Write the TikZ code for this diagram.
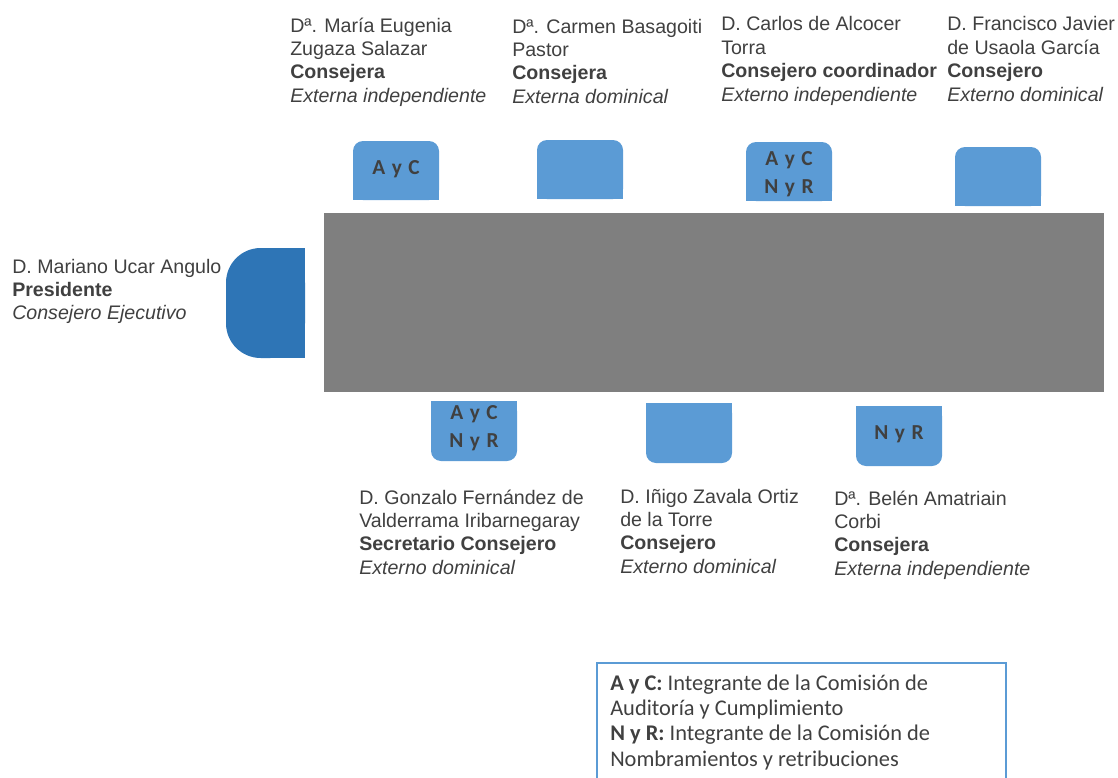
\documentclass[tikz,border=0pt]{standalone}
\usepackage{fontspec}
\setmainfont{Liberation Sans}
\newfontfamily\calfont{Carlito}
\definecolor{txtgray}{HTML}{404040}
\definecolor{chairblue}{HTML}{5B9BD5}
\definecolor{presblue}{HTML}{2E75B6}
\definecolor{tablegray}{HTML}{7F7F7F}
\newcommand\pcard[4]{\begin{tabular}[t]{@{}l@{}}#1\\#2\\\textbf{#3}\\\textit{#4}\end{tabular}}
\newcommand\tagcol[1]{\begin{tabular}[t]{@{}c@{}}#1\end{tabular}}
\tikzset{
  chair/.style={fill=chairblue},
  lbl/.style={anchor=base west, inner sep=0pt, text=txtgray, font=\fontsize{14.7}{17.6}\selectfont},
  tagtext/.style={anchor=base, text=txtgray, inner sep=0pt,
    font=\calfont\bfseries\fontsize{16}{21}\selectfont\addfontfeature{LetterSpace=8}},
  legendtext/.style={anchor=base west, inner sep=0pt, text=txtgray, font=\calfont\fontsize{16.8}{19}\selectfont}
}
\begin{document}
\begin{tikzpicture}[x=0.75pt,y=-0.75pt]
\useasboundingbox (0,0) rectangle (1118,778);
\begin{scope}
\clip (0,0) rectangle (1118,778);
% table
\fill[tablegray] (324,213) rectangle (1104,392);
% president chair
\fill[presblue, rounded corners=26pt] (226,248) rectangle (305,358);
\fill[presblue] (270,248) rectangle (305,358);
% top chairs (rounded top)
\foreach \xa/\ya in {353/141, 537/140, 746/142, 955/147}{
  \fill[chair, rounded corners=7.5pt] (\xa,\ya) rectangle ++(86,59);
  \fill[chair] (\xa,\ya+15) rectangle ++(86,44);
}
% bottom chairs (rounded bottom)
\foreach \xa/\ya in {431/401, 646/403, 856/406}{
  \fill[chair, rounded corners=7.5pt] (\xa,\ya) rectangle ++(86,60);
  \fill[chair] (\xa,\ya) rectangle ++(86,44);
}
% legend box
\draw[chairblue, line width=1.1pt] (597,663) rectangle (1006,800);
\end{scope}
% chair tags
\node[tagtext] (c1) at (396,174.5) {\tagcol{A y C}};
\node[tagtext] (c3) at (789,165.5) {\tagcol{A y C\\N y R}};
\node[tagtext] (b1) at (474,419.5) {\tagcol{A y C\\N y R}};
\node[tagtext] (b3) at (899,439.5) {\tagcol{N y R}};
% labels
\node[lbl] (p) at (12,273) {\begin{tabular}[t]{@{}l@{}}D. Mariano Ucar Angulo\\\textbf{Presidente}\\\textit{Consejero Ejecutivo}\end{tabular}};
\node[lbl] (t1) at (290,32) {\pcard{Dª. María Eugenia}{Zugaza Salazar}{Consejera}{Externa independiente}};
\node[lbl] (t2) at (512,33) {\pcard{Dª. Carmen Basagoiti}{Pastor}{Consejera}{Externa dominical}};
\node[lbl] (t3) at (721,31) {\pcard{D. Carlos de Alcocer}{Torra}{Consejero coordinador}{Externo independiente}};
\node[lbl] (t4) at (947,31) {\pcard{D. Francisco Javier}{de Usaola García}{Consejero}{Externo dominical}};
\node[lbl] (d1) at (359,504) {\pcard{D. Gonzalo Fernández de}{Valderrama Iribarnegaray}{Secretario Consejero}{Externo dominical}};
\node[lbl] (d2) at (620,503) {\pcard{D. Iñigo Zavala Ortiz}{de la Torre}{Consejero}{Externo dominical}};
\node[lbl] (d3) at (834,505) {\pcard{Dª. Belén Amatriain}{Corbi}{Consejera}{Externa independiente}};
% legend
\node[legendtext] (leg) at (610,690) {\begin{tabular}[t]{@{}l@{}}\textbf{A y C:} Integrante de la Comisión de\\Auditoría y Cumplimiento\\\textbf{N y R:} Integrante de la Comisión de\\Nombramientos y retribuciones\end{tabular}};
\end{tikzpicture}
\end{document}
